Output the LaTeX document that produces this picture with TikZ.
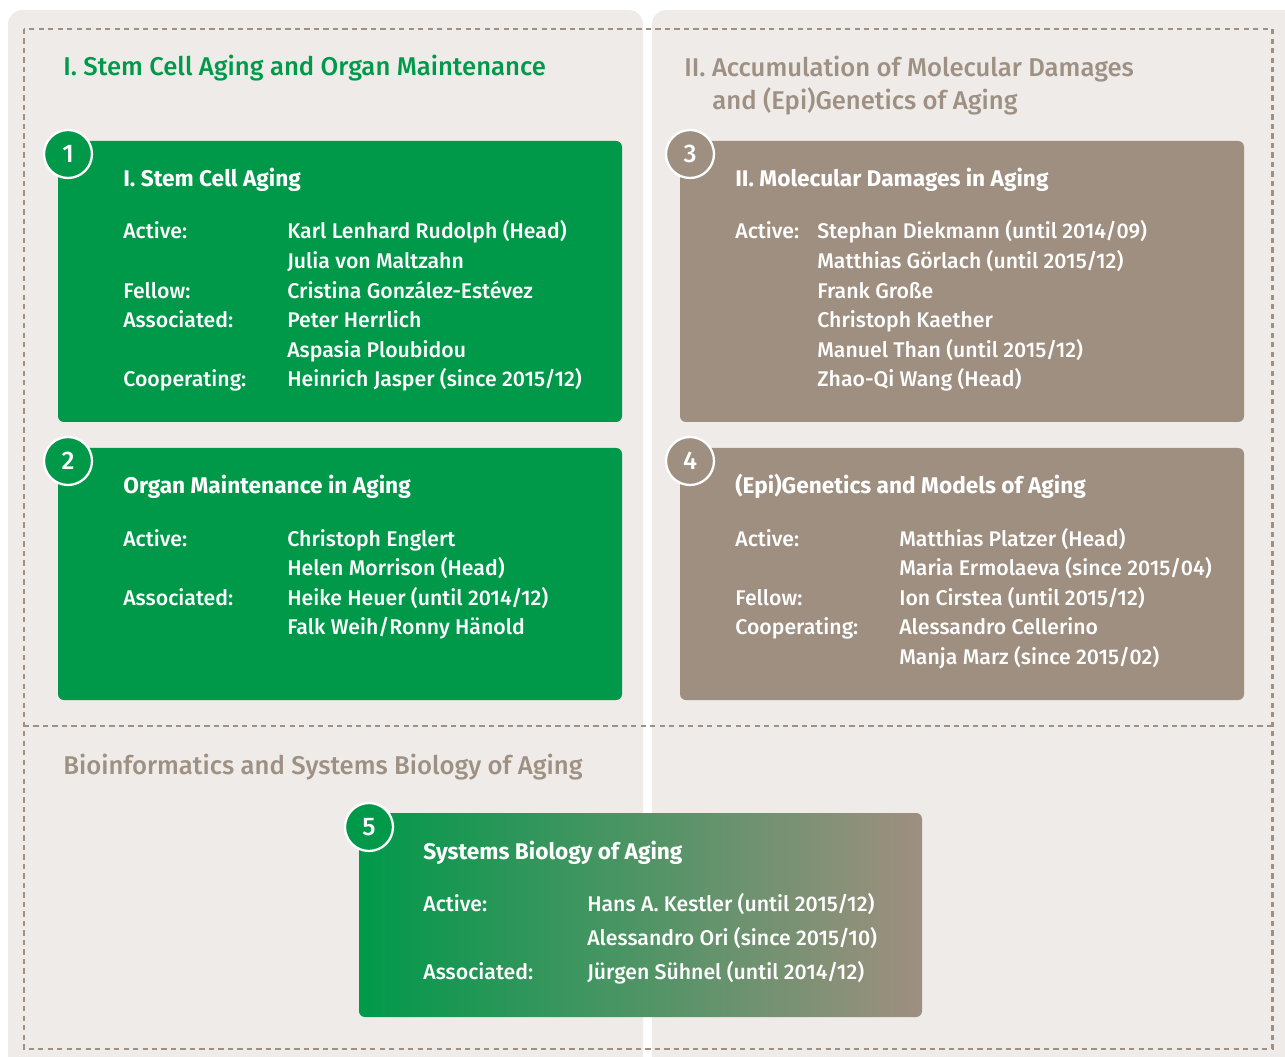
\documentclass[tikz,border=0pt]{standalone}
\usepackage{fontspec}
\setmainfont{Fira Sans}[UprightFont=* Medium, BoldFont=* Bold]
\usetikzlibrary{positioning}
\definecolor{agegreen}{RGB}{0,153,74}
\definecolor{agebrown}{RGB}{159,143,128}
\definecolor{panelgray}{RGB}{238,235,232}
\definecolor{framegray}{RGB}{158,144,130}
\begin{document}
\begin{tikzpicture}[x=0.02cm,y=-0.02cm,
    frame/.style={draw=framegray, line width=1.7pt, dash pattern=on 3pt off 2.4pt},
    numdot/.style={circle, draw=white, line width=1.3pt, minimum size=0.96cm,
      inner sep=0pt, text=white, font=\fontsize{14.5}{16}\selectfont},
    boxtitle/.style={anchor=base west, inner sep=0pt, text=white,
      font=\bfseries\fontsize{12.9}{14}\selectfont},
    members/.style={anchor=base west, inner sep=0pt, text=white,
      font=\fontsize{12.1}{16.8}\selectfont},
    areatitle/.style={anchor=base west, inner sep=0pt, align=left,
      font=\fontsize{14.6}{19.3}\selectfont}]
    \useasboundingbox (0,0) rectangle (1285,1057);
    % panels and frame
    \fill[panelgray, rounded corners=8pt] (8,1080) rectangle (643,10);
    \fill[panelgray, rounded corners=8pt] (652,1080) rectangle (1300,10);
    \draw[frame] (24,29) rectangle (1272,1049);
    \draw[frame] (24,726) -- (1272,726);
    \node[areatitle, text=agegreen] at (63,76) (sec1)
      {I. Stem Cell Aging and Organ Maintenance};
    \node[areatitle, text=framegray] at (684,110) (sec2)
      {II. Accumulation of Molecular Damages\\\hspace*{0.56cm}and (Epi)Genetics of Aging};
    \node[areatitle, text=framegray] at (63,774) (sec5)
      {Bioinformatics and Systems Biology of Aging};
    % boxes
    \fill[agegreen, rounded corners=3.4pt] (58,141) rectangle (622,422);
    \fill[agegreen, rounded corners=3.4pt] (58,448) rectangle (622,700);
    \fill[agebrown, rounded corners=3.4pt] (680,141) rectangle (1244,422);
    \fill[agebrown, rounded corners=3.4pt] (680,448) rectangle (1244,700);
    \shade[left color=agegreen, right color=agebrown, rounded corners=3.4pt]
      (359,813) rectangle (922,1017);
    \node[numdot, fill=agegreen] at (68,154) (n1) {1};
    \node[numdot, fill=agegreen] at (68,461) (n2) {2};
    \node[numdot, fill=agebrown] at (690,154) (n3) {3};
    \node[numdot, fill=agebrown] at (690,461) (n4) {4};
    \node[numdot, fill=agegreen] at (369,827) (n5) {5};
    % box 1
    \node[boxtitle] at (123,187) (hd1) {I. Stem Cell Aging};
    \node[members] at (123,239) (mem1) {\begin{tabular}[t]{@{}p{3.28cm}@{}l@{}}
      Active: & Karl Lenhard Rudolph (Head)\\
       & Julia von Maltzahn\\
      Fellow: & Cristina González-Estévez\\
      Associated: & Peter Herrlich\\
       & Aspasia Ploubidou\\
      Cooperating: & Heinrich Jasper (since 2015/12)
    \end{tabular}};
    % box 2
    \node[boxtitle] at (123,494) (hd2) {Organ Maintenance in Aging};
    \node[members] at (123,546) (mem2) {\begin{tabular}[t]{@{}p{3.28cm}@{}l@{}}
      Active: & Christoph Englert\\
       & Helen Morrison (Head)\\
      Associated: & Heike Heuer (until 2014/12)\\
       & Falk Weih/Ronny Hänold
    \end{tabular}};
    % box 3
    \node[boxtitle] at (735,187) (hd3) {II. Molecular Damages in Aging};
    \node[members] at (735,239) (mem3) {\begin{tabular}[t]{@{}p{1.64cm}@{}l@{}}
      Active: & Stephan Diekmann (until 2014/09)\\
       & Matthias Görlach (until 2015/12)\\
       & Frank Große\\
       & Christoph Kaether\\
       & Manuel Than (until 2015/12)\\
       & Zhao-Qi Wang (Head)
    \end{tabular}};
    % box 4
    \node[boxtitle] at (735,494) (hd4) {(Epi)Genetics and Models of Aging};
    \node[members] at (735,546) (mem4) {\begin{tabular}[t]{@{}p{3.28cm}@{}l@{}}
      Active: & Matthias Platzer (Head)\\
       & Maria Ermolaeva (since 2015/04)\\
      Fellow: & Ion Cirstea (until 2015/12)\\
      Cooperating: & Alessandro Cellerino\\
       & Manja Marz (since 2015/02)
    \end{tabular}};
    % box 5
    \node[boxtitle] at (423,859) (hd5) {Systems Biology of Aging};
    \node[members, font=\fontsize{12.1}{19.5}\selectfont] at (423,911) (mem5)
      {\begin{tabular}[t]{@{}p{3.28cm}@{}l@{}}
      Active: & Hans A. Kestler (until 2015/12)\\
       & Alessandro Ori (since 2015/10)\\
      Associated: & Jürgen Sühnel (until 2014/12)
    \end{tabular}};
  \end{tikzpicture}
\end{document}
